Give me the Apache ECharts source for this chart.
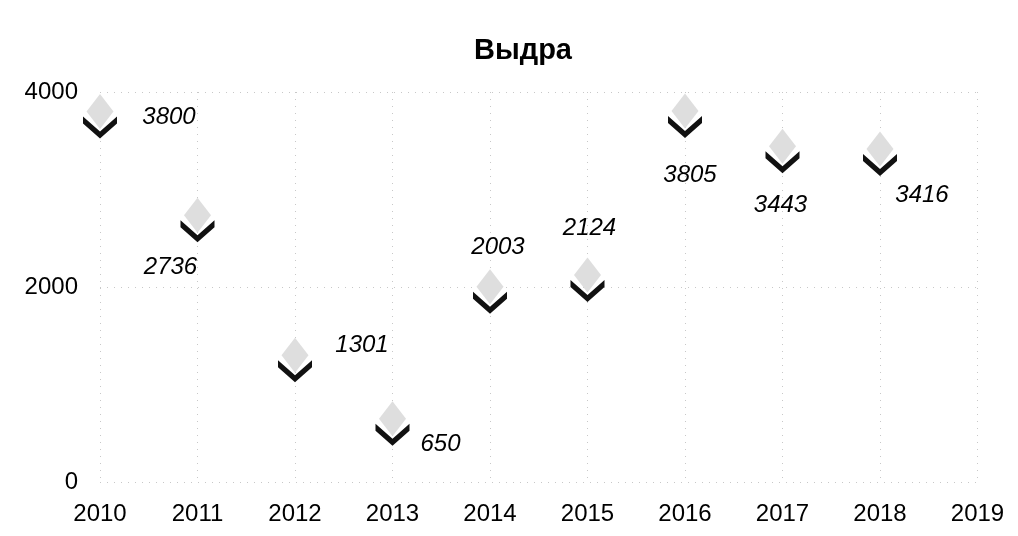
<!DOCTYPE html>
<html>
<head>
<meta charset="utf-8">
<script src="https://cdn.jsdelivr.net/npm/echarts@6/dist/echarts.min.js"></script>
<style>html,body{margin:0;padding:0;background:#fff}#c{width:1018px;height:536px}</style>
</head>
<body>
<div id="c"></div>
<script>
const titleText = 'Выдра';
const years = [2010, 2011, 2012, 2013, 2014, 2015, 2016, 2017, 2018];
const values = [3800, 2736, 1301, 650, 2003, 2124, 3805, 3443, 3416];
const yTicks = [0, 2000, 4000];
const xRange = [2010, 2019];
// label placement (px offsets from each marker), layout only
const labelOffsets = [[69,6],[-27,52],[67,-10],[48,26],[8,-39],[2,-47],[5,64],[-2,59],[42,46]];

const pts = years.map((y, i) => [y, values[i]]);
const fontFam = '"Liberation Sans", Arial, sans-serif';

const chart = echarts.init(document.getElementById('c'), null, {renderer: 'canvas'});
chart.setOption({
  animation: false,
  backgroundColor: '#fff',
  title: {
    text: titleText, left: 518, top: 31, textAlign: 'center',
    textStyle: {fontFamily: fontFam, fontSize: 29, fontWeight: 'bold', color: '#000'}
  },
  grid: {left: 100, right: 40.5, top: 92, bottom: 54, containLabel: false},
  xAxis: {
    type: 'value', min: xRange[0], max: xRange[1], interval: 1,
    axisLine: {show: false}, axisTick: {show: false},
    axisLabel: {margin: 20, fontFamily: fontFam, fontSize: 24, color: '#000', formatter: v => String(v)},
    splitLine: {show: true, lineStyle: {color: '#c8c8c8', type: [1, 6], width: 1}}
  },
  yAxis: {
    type: 'value', min: yTicks[0], max: yTicks[yTicks.length - 1], interval: yTicks[1] - yTicks[0],
    axisLine: {show: false}, axisTick: {show: false},
    axisLabel: {margin: 22, fontFamily: fontFam, fontSize: 24, color: '#000', formatter: v => String(v)},
    splitLine: {show: true, lineStyle: {color: '#c8c8c8', type: [1, 6], width: 1}}
  },
  series: [
    {
      type: 'scatter', z: 2,
      data: pts,
      symbol: 'diamond', symbolSize: [27, 35],
      itemStyle: {color: '#dedede', opacity: 1},
      label: {show: false}
    },
    {
      type: 'scatter', z: 3,
      data: pts,
      symbol: 'path://M0,0 L17,15 L34,0 L34,7 L17,22 L0,7 Z',
      symbolSize: [34, 22], symbolOffset: [0, 16], symbolKeepAspect: false,
      itemStyle: {color: '#111', opacity: 1},
      label: {show: false}
    },
    {
      type: 'scatter', z: 4,
      data: pts.map((p, i) => ({
        value: p,
        label: {offset: labelOffsets[i]}
      })),
      symbol: 'circle', symbolSize: 1,
      itemStyle: {color: 'rgba(0,0,0,0)'},
      label: {
        show: true, position: 'inside', align: 'center', verticalAlign: 'middle',
        fontFamily: fontFam, fontSize: 24, fontStyle: 'italic', color: '#000', opacity: 1,
        textBorderColor: 'transparent', textBorderWidth: 0,
        formatter: p => String(p.value[1])
      }
    }
  ]
});
</script>
</body>
</html>
